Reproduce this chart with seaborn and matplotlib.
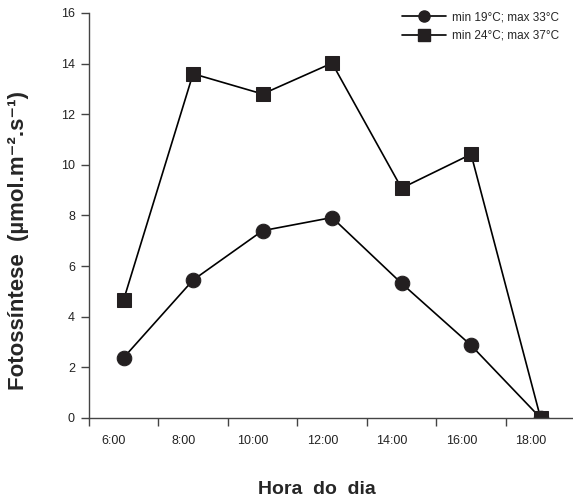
import numpy as np
import pandas as pd
import matplotlib
matplotlib.use("Agg")
import matplotlib.pyplot as plt
from matplotlib.lines import Line2D
import seaborn as sns

# Hours of the day and net photosynthesis for the two temperature regimes
horas = ["6:00", "8:00", "10:00", "12:00", "14:00", "16:00", "18:00"]
serie_fria = "min 19°C; max 33°C"
serie_quente = "min 24°C; max 37°C"
fotoss_fria = [2.38, 5.45, 7.4, 7.92, 5.32, 2.87, 0.0]
fotoss_quente = [4.66, 13.6, 12.8, 14.02, 9.08, 10.42, 0.0]
y_ticks = [0, 2, 4, 6, 8, 10, 12, 14, 16]

sns.set_theme(style="ticks")
plt.rcParams["font.family"] = ["Liberation Sans", "DejaVu Sans"]

pos = np.arange(len(horas))
df = pd.DataFrame({
    "pos": np.concatenate([pos, pos]),
    "valor": fotoss_fria + fotoss_quente,
    "serie": [serie_fria] * len(horas) + [serie_quente] * len(horas),
})

fig = plt.figure(figsize=(5.73, 5.0), dpi=100)
ax = fig.add_axes([0.155, 0.164, 0.843, 0.81])

ink = "#231f20"
sns.lineplot(data=df, x="pos", y="valor", style="serie",
             markers=["o", "s"], dashes=False, color="black",
             linewidth=1.2, markersize=10.5, markeredgecolor=ink,
             markerfacecolor=ink, ax=ax, legend=False)

ax.set_xlim(-0.5, 6.45)
ax.set_ylim(0, 16)

# Category labels sit inside each interval, tick marks at the boundaries
ax.set_xticks(pos - 0.14)
ax.set_xticklabels(horas, fontsize=9)
ax.tick_params(axis="x", which="major", length=0, pad=12, colors="#222222")
ax.set_xticks(np.arange(-0.5, 6.5, 1.0), minor=True)
ax.tick_params(axis="x", which="minor", length=6, width=1.0, color="#444444")

ax.set_yticks(y_ticks)
ax.set_yticklabels([str(v) for v in y_ticks], fontsize=9)
ax.tick_params(axis="y", length=6, width=1.0, pad=4, colors="#222222")
ax.tick_params(axis="y", color="#444444")

for side in ["top", "right"]:
    ax.spines[side].set_visible(False)
for side in ["left", "bottom"]:
    ax.spines[side].set_color("#444444")
    ax.spines[side].set_linewidth(1.0)

ax.set_xlabel("Hora  do  dia", fontsize=14, fontweight="bold")
ax.xaxis.set_label_coords(0.472, -0.155)
ax.set_ylabel("Fotossíntese  (µmol.m⁻².s⁻¹)", fontsize=16, fontweight="bold")
ax.yaxis.set_label_coords(-0.124, 0.438)

handles = [
    Line2D([], [], color="black", lw=1.2, marker="o", markersize=8,
           markerfacecolor=ink, markeredgecolor=ink),
    Line2D([], [], color="black", lw=1.2, marker="s", markersize=8,
           markerfacecolor=ink, markeredgecolor=ink),
]
ax.legend(handles, [serie_fria, serie_quente], loc="upper right",
          bbox_to_anchor=(0.995, 1.03), frameon=False, fontsize=8.5,
          handlelength=3.7, handletextpad=0.5, labelspacing=0.55)

fig.savefig("out.png", dpi=100)
